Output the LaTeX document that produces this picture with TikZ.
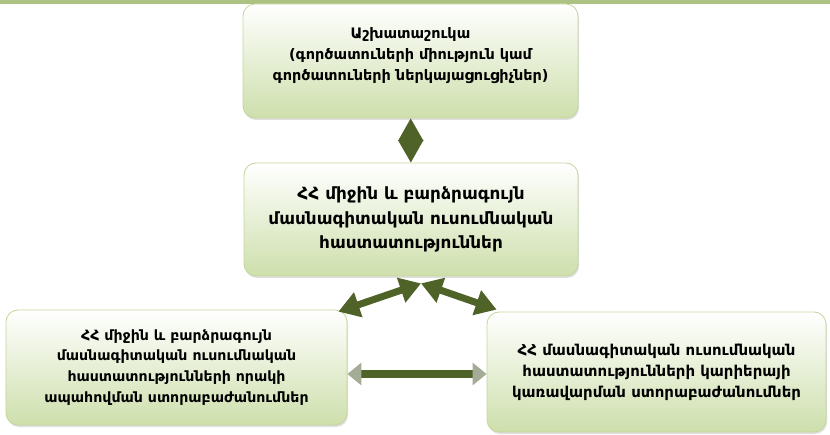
\documentclass[tikz,border=0pt]{standalone}
\usepackage{fontspec}
\newfontfamily\armfont{DejaVu Sans}
\usetikzlibrary{calc,arrows.meta,shadows}
\pgfdeclarelayer{background}
\pgfsetlayers{background,main}
\definecolor{verdeborde}{RGB}{196,214,155}
\definecolor{verdefondo}{RGB}{206,223,172}
\definecolor{verdeoscuro}{RGB}{79,98,40}
\definecolor{verdebanda}{RGB}{172,193,130}
\definecolor{verdepunta}{RGB}{165,172,150}

\begin{document}
\begin{tikzpicture}[x=1bp,y=-1bp,black]
	\tikzset{recuadro/.style={draw=verdeborde, thick, rectangle, rounded corners=12bp, top color=white, bottom color=verdefondo, drop shadow={opacity=0.25,shadow xshift=1bp,shadow yshift=-2bp}, align=center, inner sep=0pt, font=\armfont\bfseries\fontsize{14.2}{21}\selectfont}}
	\tikzset{flecha/.style={draw=verdeoscuro, line width=7bp, {Triangle[length=21bp,width=25bp]}-{Triangle[length=21bp,width=25bp]}}}
	\useasboundingbox (0,0) rectangle (830,435);
	\fill[verdebanda] (0,0) rectangle (830,4);
	\node[recuadro,minimum width=335bp,minimum height=114bp,text depth=14bp,font=\armfont\bfseries\fontsize{14.5}{21}\selectfont] at (410.5,61) (TU){Աշխատաշուկա\\(գործատուների միություն կամ\\գործատուների ներկայացուցիչներ)};
	\node[recuadro,minimum width=334bp,minimum height=113bp,font=\armfont\bfseries\fontsize{16.9}{24.5}\selectfont] at (411,219.5) (HH){ՀՀ միջին և բարձրագույն\\մասնագիտական ուսումնական\\հաստատություններ};
	\node[recuadro,minimum width=341bp,minimum height=115bp] at (176.5,367.5) (OA){ՀՀ միջին և բարձրագույն\\մասնագիտական ուսումնական\\հաստատությունների որակի\\ապահովման ստորաբաժանումներ};
	\node[recuadro,minimum width=339bp,minimum height=120bp,font=\armfont\bfseries\fontsize{15}{21}\selectfont] at (656.5,372) (KK){ՀՀ մասնագիտական ուսումնական\\հաստատությունների կարիերայի\\կառավարման ստորաբաժանումներ};
	\coordinate (base) at ($(HH.south)+(10,7)$);
	\coordinate (puente) at (0,374);
	\draw[draw=verdeoscuro,line width=2bp,{Triangle[length=22.5bp,width=25bp]}-{Triangle[length=22.5bp,width=25bp]}] (TU) -- (HH);
	\draw[flecha] (base) -- ($(OA.north east)+(-9,2)$);
	\draw[flecha] (base) -- ($(KK.north west)+(10,-2)$);
	\begin{pgfonlayer}{background}
		\draw[draw=verdeoscuro,line width=8bp,{Triangle[length=14bp,width=22bp,color=verdepunta]}-{Triangle[length=14bp,width=22bp,color=verdepunta]}] (OA.east |- puente) -- (KK.west |- puente);
	\end{pgfonlayer}
\end{tikzpicture}
\end{document}
